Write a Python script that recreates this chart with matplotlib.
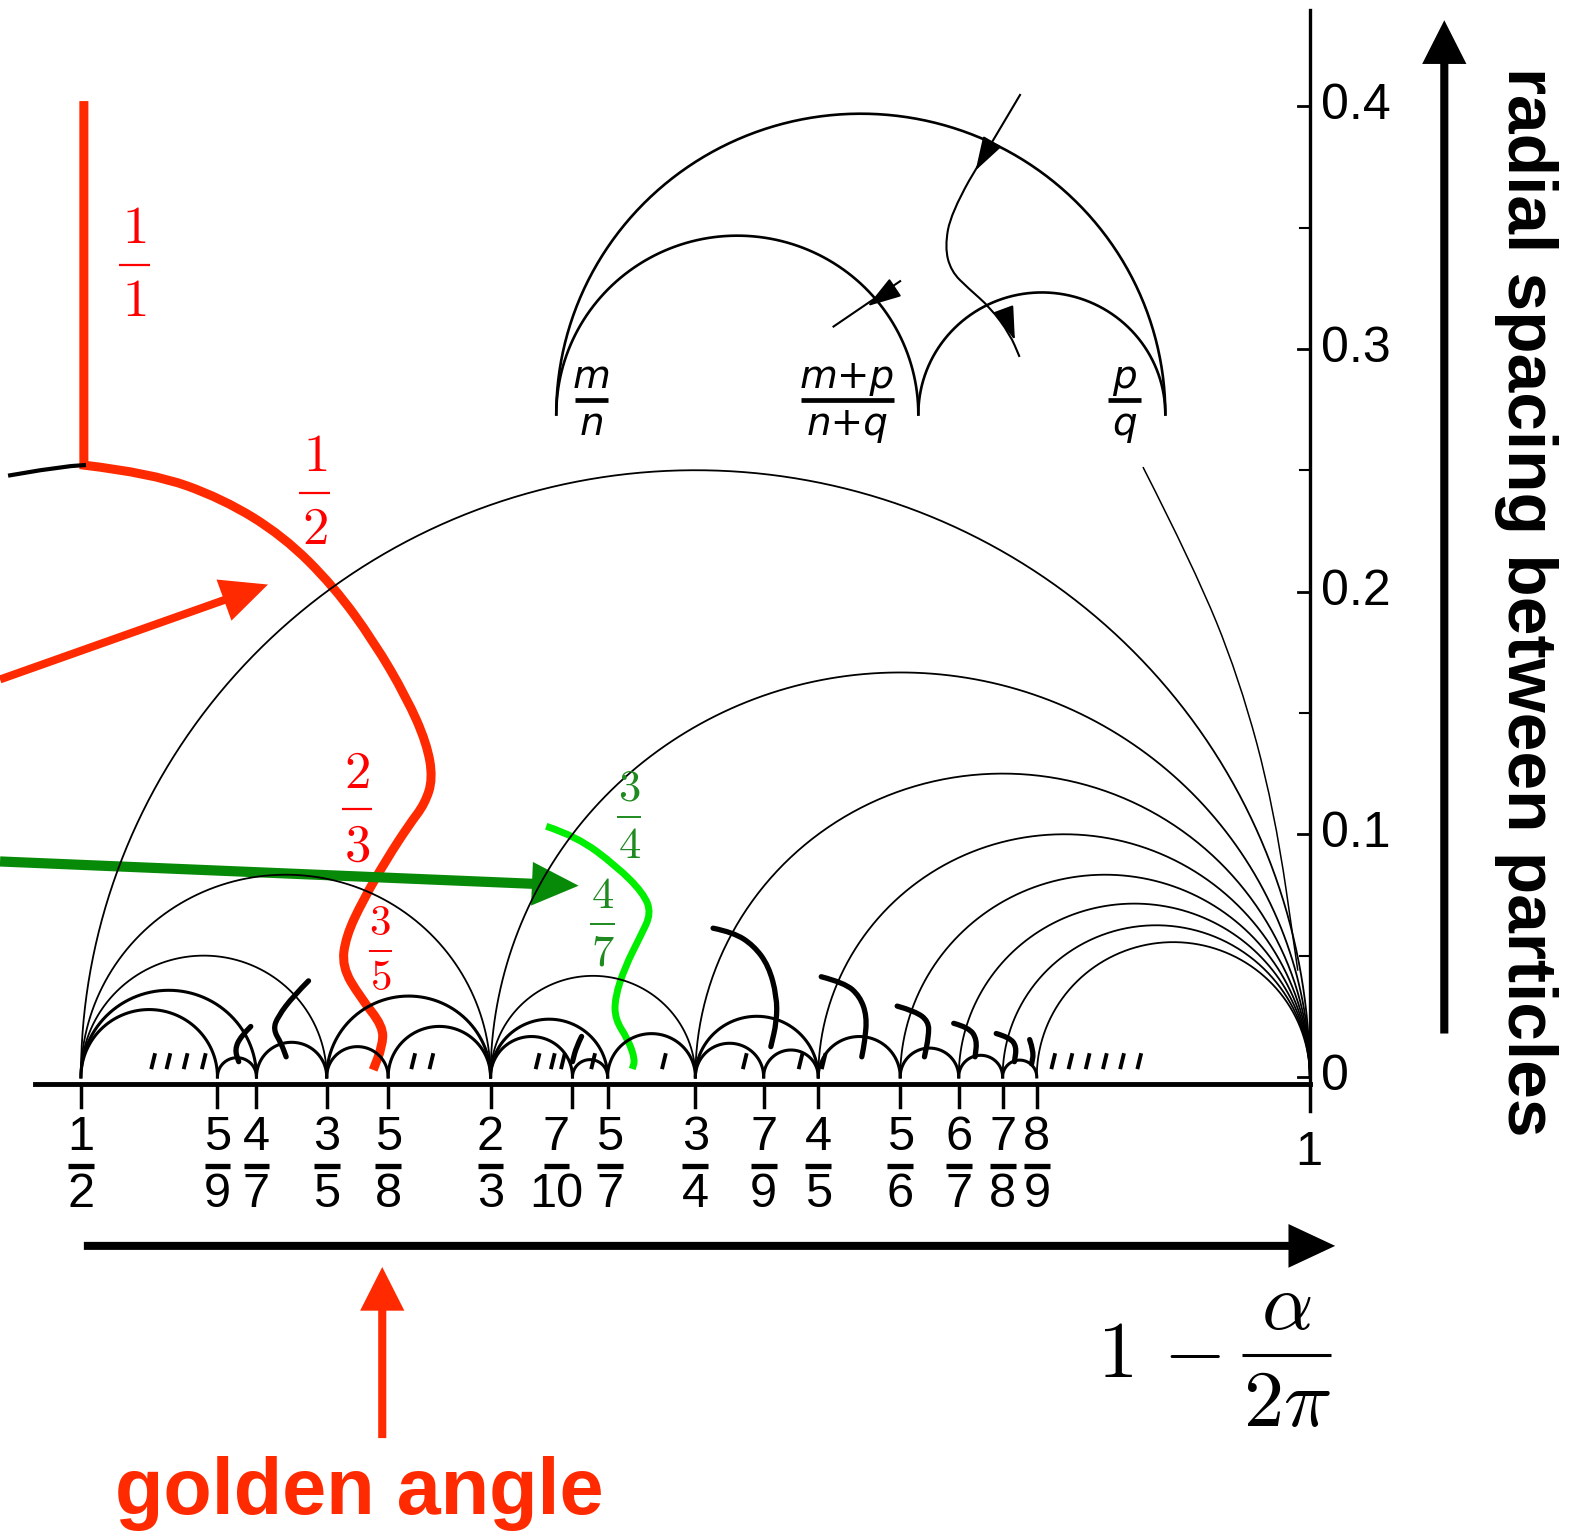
import numpy as np
import matplotlib
matplotlib.use('Agg')
from matplotlib import pyplot as plt
from matplotlib.path import Path
from matplotlib.patches import PathPatch

plt.rcParams['mathtext.fontset'] = 'cm'

# window in data units: x = 1 - alpha/2pi, y = radial spacing
XLIM = (0.46708, 1.11235)
YLIM = (-0.18708, 0.44375)
BASE_Y = -0.003

# Farey neighbours joined by arcs
arc_pairs = [((1, 2), (1, 1)), ((1, 2), (2, 3)), ((2, 3), (1, 1)),
             ((1, 2), (3, 5)), ((3, 5), (2, 3)), ((2, 3), (3, 4)), ((3, 4), (1, 1)),
             ((1, 2), (4, 7)), ((4, 7), (3, 5)), ((3, 5), (5, 8)), ((5, 8), (2, 3)),
             ((2, 3), (5, 7)), ((5, 7), (3, 4)), ((3, 4), (4, 5)), ((4, 5), (1, 1)),
             ((1, 2), (5, 9)), ((5, 9), (4, 7)), ((2, 3), (7, 10)), ((7, 10), (5, 7)),
             ((3, 4), (7, 9)), ((7, 9), (4, 5)), ((4, 5), (5, 6)), ((5, 6), (1, 1)),
             ((5, 6), (6, 7)), ((6, 7), (1, 1)), ((6, 7), (7, 8)), ((7, 8), (1, 1)),
             ((7, 8), (8, 9)), ((8, 9), (1, 1))]

xtick_fracs = [(1, 2), (5, 9), (4, 7), (3, 5), (5, 8), (2, 3), (7, 10), (5, 7),
               (3, 4), (7, 9), (4, 5), (5, 6), (6, 7), (7, 8), (8, 9)]
xlabel_shift = {(7, 10): -0.0065, (5, 7): 0.001}
ytick_vals = [0.0, 0.1, 0.2, 0.3, 0.4]
ytick_labels = ['0', '0.1', '0.2', '0.3', '0.4']
yminor_vals = [0.05, 0.15, 0.25, 0.35]

# inset sketch: m/n, (m+p)/(n+q), p/q
inset_nodes = [0.6934, 0.8407, 0.9412]
inset_base = 0.273
inset_pairs = [(0, 2), (0, 1), (1, 2)]
inset_num = ['m', 'm+p', 'p']
inset_den = ['n', 'n+q', 'q']
inset_lab_x = [0.7078, 0.8119, 0.9247]
inset_bar_w = [0.0136, 0.0379, 0.0136]
inset_path_x = [0.8823, 0.8613, 0.8540, 0.8515, 0.8540, 0.8610, 0.8700, 0.8780, 0.8819]
inset_path_y = [0.4050, 0.3692, 0.3560, 0.3420, 0.3320, 0.3250, 0.3170, 0.3060, 0.2967]
inset_short_x = [0.8333, 0.8062]
inset_short_y = [0.3279, 0.3092]
link_x = [0.9321, 0.9527, 0.9712, 0.9856, 0.9951]
link_y = [0.2513, 0.2104, 0.1646, 0.1104, 0.0438]

left_arc_x = [0.4712, 0.4835, 0.4959, 0.5012]
left_arc_y = [0.2479, 0.2500, 0.2517, 0.2521]

# red path of the 1/1 -> 1/2 -> 2/3 -> 3/5 ... branch
red_x = [0.5012, 0.5012, 0.5288, 0.5576, 0.5823, 0.6029, 0.6193, 0.6325, 0.6407,
         0.6432, 0.6399, 0.6337, 0.6243, 0.6148, 0.6078, 0.6062, 0.6136, 0.6230,
         0.6226, 0.6189]
red_y = [0.4021, 0.2521, 0.2488, 0.2383, 0.2229, 0.2021, 0.1792, 0.1563, 0.1375,
         0.1229, 0.1125, 0.1042, 0.0896, 0.0729, 0.0579, 0.0454, 0.0329, 0.0208,
         0.0125, 0.0029]
# green path of the 3/4 -> 4/7 branch
green_x = [0.6893, 0.7016, 0.7181, 0.7288, 0.7321, 0.7276, 0.7214, 0.7173, 0.7173,
           0.7226, 0.7255, 0.7243]
green_y = [0.1033, 0.0992, 0.0867, 0.0758, 0.0675, 0.0579, 0.0454, 0.0329, 0.0238,
           0.0154, 0.0071, 0.0033]

# thick hand-traced bifurcation strokes
squiggles = [
    ([0.5926, 0.5864, 0.5802, 0.5782, 0.5815, 0.5835], [0.0396, 0.0333, 0.0250, 0.0196, 0.0138, 0.0083]),
    ([0.5691, 0.5650, 0.5626, 0.5642], [0.0208, 0.0167, 0.0113, 0.0063]),
    ([0.7572, 0.7654, 0.7737, 0.7798, 0.7831, 0.7831, 0.7807], [0.0613, 0.0596, 0.0542, 0.0458, 0.0333, 0.0229, 0.0125]),
    ([0.8012, 0.8107, 0.8169, 0.8198, 0.8189, 0.8177], [0.0413, 0.0388, 0.0333, 0.0250, 0.0146, 0.0083]),
    ([0.8321, 0.8395, 0.8449, 0.8449, 0.8432], [0.0292, 0.0271, 0.0229, 0.0167, 0.0083]),
    ([0.8551, 0.8613, 0.8646, 0.8638], [0.0221, 0.0204, 0.0154, 0.0083]),
    ([0.8724, 0.8778, 0.8807, 0.8798], [0.0179, 0.0163, 0.0125, 0.0063]),
    ([0.8860, 0.8877, 0.8868], [0.0154, 0.0104, 0.0054]),
    ([0.7037, 0.7016, 0.7000], [0.0167, 0.0125, 0.0063]),
]
dash_x = [0.5288, 0.5350, 0.5420, 0.5494, 0.6346, 0.6420, 0.6852, 0.6914, 0.6955,
          0.7078, 0.7366, 0.7695, 0.7922, 0.8016, 0.8950, 0.9020, 0.9090, 0.9160,
          0.9230, 0.9300]

fig = plt.figure(figsize=(15.86, 15.31), dpi=100)
ax = fig.add_axes([0, 0, 1, 1])
ax.set_xlim(*XLIM)
ax.set_ylim(*YLIM)
ax.axis('off')


def smooth_line(xs, ys, sharp=0, **kw):
    # quadratic bezier through the traced points, first `sharp` segments straight
    pts = list(zip(xs, ys))
    verts = [pts[0]]
    codes = [Path.MOVETO]
    for i in range(1, sharp + 1):
        verts.append(pts[i])
        codes.append(Path.LINETO)
    for i in range(sharp + 1, len(pts) - 1):
        mid = ((pts[i][0] + pts[i + 1][0]) / 2, (pts[i][1] + pts[i + 1][1]) / 2)
        verts += [pts[i], mid]
        codes += [Path.CURVE3, Path.CURVE3]
    verts.append(pts[-1])
    codes.append(Path.LINETO)
    ax.add_patch(PathPatch(Path(verts, codes), fill=False, **kw))


t = np.linspace(0, np.pi, 300)
for (a, b), (c, d) in arc_pairs:
    x1, x2 = a / b, c / d
    r = (x2 - x1) / 2
    if c == d or r > 0.04:
        lw = 1.3
    else:
        lw = 2.2
    ax.plot((x1 + x2) / 2 + r * np.cos(t), r * np.sin(t), color='black', lw=lw)

for xs, ys in squiggles:
    smooth_line(xs, ys, lw=3.8, color='black', capstyle='round')
for x in dash_x:
    ax.plot([x, x + 0.0012], [0.004, 0.009], color='black', lw=2.8)

ax.plot(left_arc_x, left_arc_y, color='black', lw=3)

# baseline and x ticks
ax.plot([0.4815, 1.0], [BASE_Y, BASE_Y], color='black', lw=3.5)


def frac_label(x, y, num, den, dy, bar_w, color, size, bar_lw, **kw):
    ax.text(x, y + dy, num, ha='center', va='center', color=color, fontsize=size, **kw)
    ax.text(x, y - dy, den, ha='center', va='center', color=color, fontsize=size, **kw)
    ax.plot([x - bar_w / 2, x + bar_w / 2], [y, y], color=color, lw=bar_lw,
            solid_capstyle='butt')


for n, d in xtick_fracs:
    x = n / d
    ax.plot([x, x], [BASE_Y, BASE_Y - 0.0095], color='black', lw=2.5)
    xl = x + xlabel_shift.get((n, d), 0.0)
    frac_label(xl, -0.0367, str(n), str(d), 0.0118, 0.0105, 'black', 35, 3.8,
               family='Liberation Sans')
ax.plot([1.0, 1.0], [BASE_Y, BASE_Y - 0.011], color='black', lw=2.5)
ax.text(0.9995, -0.0313, '1', ha='center', va='center', fontsize=35, family='Liberation Sans')

# right axis
ax.plot([1.0, 1.0], [BASE_Y, 0.4396], color='black', lw=2.4)
for v, lab in zip(ytick_vals, ytick_labels):
    ax.plot([0.995, 1.0], [v, v], color='black', lw=2)
    ax.text(1.0045, v, lab, ha='left', va='center', fontsize=36, family='Liberation Sans')
for v in yminor_vals:
    ax.plot([0.996, 1.0], [v, v], color='black', lw=1.5)

# inset sketch
for i, j in inset_pairs:
    x1, x2 = inset_nodes[i], inset_nodes[j]
    r = (x2 - x1) / 2
    ax.plot((x1 + x2) / 2 + r * np.cos(t), inset_base + r * np.sin(t), color='black', lw=1.9)
for x, num, den, bw in zip(inset_lab_x, inset_num, inset_den, inset_bar_w):
    frac_label(x, 0.2788, num, den, 0.0097, bw, 'black', 28, 3.4, style='italic',
               family='DejaVu Sans')
smooth_line(inset_path_x, inset_path_y, sharp=1, color='black', lw=1.5)
ax.plot(inset_short_x, inset_short_y, color='black', lw=1.5)
smooth_line(link_x, link_y, color='black', lw=1.1)
head = dict(arrowstyle='-|>,head_length=0.7,head_width=0.22', color='black', lw=1.5,
            mutation_scale=30, shrinkA=0, shrinkB=0)
ax.annotate('', xy=(0.8640, 0.3735), xytext=(0.8700, 0.3840), arrowprops=head)
ax.annotate('', xy=(0.8800, 0.3035), xytext=(0.8780, 0.3090), arrowprops=head)
ax.annotate('', xy=(0.8200, 0.3176), xytext=(0.8250, 0.3210), arrowprops=head)

# red and green branches
RED = '#ff2a00'
smooth_line(red_x, red_y, sharp=1, color=RED, lw=6.5, joinstyle='miter', capstyle='butt')
smooth_line(green_x, green_y, color='#00ee00', lw=5, capstyle='butt')

frac_label(0.5218, 0.3346, '$1$', '$1$', 0.0150, 0.0125, 'red', 38, 1.6)
frac_label(0.5951, 0.2408, '$1$', '$2$', 0.0150, 0.0125, 'red', 38, 1.6)
frac_label(0.6123, 0.1104, '$2$', '$3$', 0.0150, 0.0125, 'red', 38, 1.6)
frac_label(0.6218, 0.0521, '$3$', '$5$', 0.0115, 0.0095, 'red', 31, 1.4)
frac_label(0.7230, 0.1071, '$3$', '$4$', 0.0118, 0.0100, '#1f8a1f', 32, 1.4)
frac_label(0.7123, 0.0629, '$4$', '$7$', 0.0118, 0.0100, '#1f8a1f', 32, 1.4)

# arrows
ax.arrow(0.4671, 0.1638, 0.5761 - 0.4671, 0.2029 - 0.1638, width=0.0033,
         head_width=0.018, head_length=0.019, length_includes_head=True, color=RED, lw=0)
ax.arrow(0.4671, 0.0888, 0.7025 - 0.4671, 0.0788 - 0.0888, width=0.0042,
         head_width=0.018, head_length=0.019, length_includes_head=True, color='#078a07', lw=0)
ax.arrow(0.6226, -0.1488, 0.0, -0.0783 + 0.1488, width=0.0033,
         head_width=0.018, head_length=0.018, length_includes_head=True, color=RED, lw=0)
ax.arrow(0.5012, -0.0696, 1.0103 - 0.5012, 0.0, width=0.0033,
         head_width=0.018, head_length=0.019, length_includes_head=True, color='black', lw=0)
ax.arrow(1.0547, 0.0179, 0.0, 0.4354 - 0.0179, width=0.0033,
         head_width=0.018, head_length=0.018, length_includes_head=True, color='black', lw=0)

# axis label 1 - alpha / 2pi
ax.text(0.9385, -0.1146, r'$1\,-$', ha='center', va='center', fontsize=58)
frac_label(0.9905, -0.1146, r'$\alpha$', r'$2\pi$', 0.0200, 0.0362, 'black', 58, 2.2)

ax.text(0.6132, -0.1800, 'golden angle', ha='center', va='baseline', fontsize=57,
        fontweight='bold', color=RED, family='Liberation Sans')
ax.text(1.0880, 0.1958, 'radial spacing between particles', ha='center', va='center',
        rotation=-90, fontsize=50, fontweight='bold', family='Liberation Sans')

fig.savefig('out.png', dpi=100)
